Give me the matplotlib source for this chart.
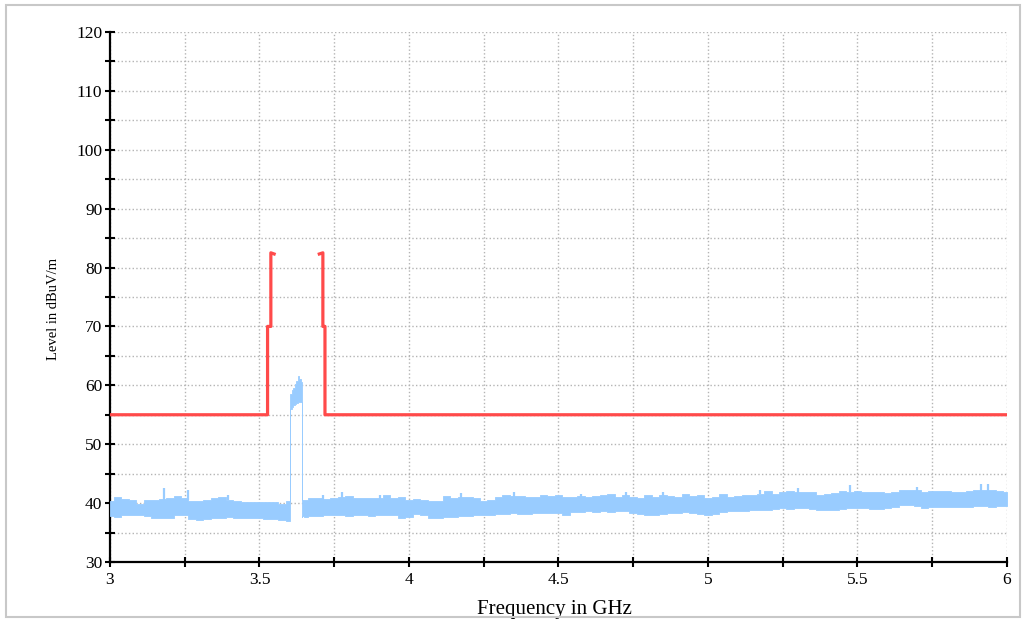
import matplotlib
matplotlib.use("Agg")
import matplotlib.pyplot as plt
from matplotlib.patches import Rectangle
from matplotlib.ticker import MultipleLocator

plt.rcParams['font.family'] = ['Liberation Serif', 'DejaVu Serif']

nan = float('nan')

# limit line (dBuV/m), two stepped pieces with a gap at the top
limit_f = [3.0, 3.527, 3.527, 3.538, 3.538, 3.549, nan,
           3.700, 3.712, 3.712, 3.719, 3.719, 6.0]
limit_l = [55, 55, 70, 70, 82.5, 82.3, nan,
           82.3, 82.5, 70, 70, 55, 55]

# measured trace, min/max envelope per frequency bin (GHz)
freq = [3.000, 3.025, 3.050, 3.075, 3.100, 3.125, 3.150, 3.175, 3.200, 3.225,
        3.250, 3.275, 3.300, 3.325, 3.350, 3.375, 3.400, 3.425, 3.450, 3.475,
        3.500, 3.525, 3.550, 3.575, 3.600,
        3.602, 3.605, 3.610, 3.615, 3.620, 3.625, 3.630, 3.635, 3.640, 3.642,
        3.645, 3.650, 3.675, 3.700, 3.725, 3.750, 3.775, 3.800, 3.825, 3.850,
        3.875, 3.900, 3.925, 3.950, 3.975, 4.000,
        4.025, 4.050, 4.075, 4.100, 4.125, 4.150, 4.175, 4.200, 4.225, 4.250,
        4.275, 4.300, 4.325, 4.350, 4.375, 4.400, 4.425, 4.450, 4.475, 4.500,
        4.525, 4.550, 4.575, 4.600, 4.625, 4.650, 4.675, 4.700, 4.725, 4.750,
        4.775, 4.800, 4.825, 4.850, 4.875, 4.900, 4.925, 4.950, 4.975, 5.000,
        5.025, 5.050, 5.075, 5.100, 5.125, 5.150, 5.175, 5.200, 5.225, 5.250,
        5.275, 5.300, 5.325, 5.350, 5.375, 5.400, 5.425, 5.450, 5.475, 5.500,
        5.525, 5.550, 5.575, 5.600, 5.625, 5.650, 5.675, 5.700, 5.725, 5.750,
        5.775, 5.800, 5.825, 5.850, 5.875, 5.900, 5.925, 5.950, 5.975, 6.000]
level_lo = [37.8, 37.6, 37.9, 38.0, 37.9, 37.8, 37.4, 37.4, 37.5, 38.0,
            38.0, 37.3, 37.2, 37.3, 37.5, 37.5, 37.6, 37.5, 37.4, 37.5,
            37.4, 37.3, 37.3, 37.2, 37.0,
            37.8, 56.0, 56.3, 56.6, 56.8, 57.0, 57.1, 57.2, 57.2, 37.6,
            37.8, 37.7, 37.8, 37.8, 37.9, 38.0, 37.9, 37.8, 37.9, 37.9,
            37.8, 37.9, 38.0, 37.9, 37.5, 37.7,
            38.1, 38.0, 37.4, 37.5, 37.6, 37.7, 37.8, 37.8, 38.0, 38.0,
            38.0, 38.1, 38.2, 38.3, 38.2, 38.2, 38.3, 38.3, 38.4, 38.4,
            38.0, 38.5, 38.5, 38.6, 38.5, 38.6, 38.5, 38.6, 38.6, 38.4,
            38.2, 38.0, 37.9, 38.1, 38.3, 38.4, 38.5, 38.4, 38.1, 38.0,
            38.1, 38.5, 38.6, 38.6, 38.7, 38.8, 38.8, 38.9, 39.0, 39.1,
            39.0, 39.1, 39.1, 39.0, 38.9, 38.9, 38.9, 39.0, 39.2, 39.2,
            39.2, 39.0, 39.0, 39.2, 39.3, 39.6, 39.6, 39.5, 39.1, 39.3,
            39.4, 39.4, 39.3, 39.4, 39.4, 39.5, 39.5, 39.4, 39.5, 39.5]
level_hi = [40.3, 41.0, 40.7, 40.6, 39.9, 40.5, 40.6, 40.7, 40.8, 41.2,
            40.9, 40.4, 40.3, 40.6, 40.8, 41.0, 40.5, 40.4, 40.2, 40.2,
            40.1, 40.1, 40.2, 39.9, 40.3,
            58.3, 58.5, 59.2, 59.6, 60.3, 60.8, 61.6, 61.0, 60.6, 60.0,
            40.5, 40.6, 40.8, 40.9, 40.7, 40.9, 41.0, 41.2, 40.8, 40.9,
            40.8, 40.9, 41.3, 40.8, 41.0, 40.6,
            40.7, 40.6, 40.3, 40.4, 41.2, 40.8, 41.0, 41.1, 40.9, 40.4,
            40.5, 41.0, 41.3, 41.2, 41.2, 41.1, 41.0, 41.3, 41.2, 41.4,
            41.0, 41.1, 41.2, 41.0, 41.2, 41.3, 41.5, 41.0, 41.3, 41.0,
            40.9, 41.3, 41.0, 41.3, 41.2, 41.1, 41.5, 41.2, 41.3, 40.8,
            41.0, 41.6, 41.1, 41.2, 41.4, 41.3, 41.6, 42.0, 41.6, 41.9,
            42.0, 41.8, 41.9, 41.8, 41.4, 41.5, 41.7, 42.0, 41.9, 42.0,
            41.8, 41.9, 41.8, 41.7, 41.9, 42.2, 42.3, 42.2, 41.8, 42.0,
            42.0, 42.0, 41.9, 41.8, 42.1, 42.2, 42.3, 42.3, 42.1, 41.9]

# narrow peaks sticking out of the noise band
spike_f = [3.180, 3.262, 3.395, 3.713, 3.775, 3.902, 4.175, 4.350, 4.575,
           4.725, 4.850, 5.175, 5.300, 5.475, 5.700, 5.912, 5.936]
spike_top = [42.6, 42.3, 41.3, 41.4, 41.9, 41.3, 41.7, 41.9, 41.5,
             41.8, 41.9, 42.3, 42.5, 43.0, 42.8, 43.2, 43.2]
spike_base = [40.5, 40.5, 40.5, 40.5, 40.5, 40.5, 40.5, 40.8, 41.0,
              41.0, 41.0, 41.5, 41.5, 41.8, 41.8, 42.0, 42.0]

fig = plt.figure(figsize=(10.27, 6.22), dpi=100)
fig.set_facecolor('white')
fig.patches.append(Rectangle((0.006, 0.008), 0.987, 0.984, transform=fig.transFigure,
                             fill=False, edgecolor='#c8c8c8', linewidth=1.5))

ax = fig.add_axes([0.1071, 0.0965, 0.8734, 0.8521])
ax.fill_between(freq, level_lo, level_hi, step='mid', color='#99ccff', linewidth=0.6,
                edgecolor='#99ccff', zorder=3)
ax.vlines(spike_f, spike_base, spike_top, color='#99ccff', linewidth=1.6, zorder=3)
ax.plot(limit_f, limit_l, color='#ff4a4a', linewidth=2.3, zorder=4)

ax.set_xlim(3, 6)
ax.set_ylim(30, 120)
ax.xaxis.set_major_locator(MultipleLocator(0.5))
ax.xaxis.set_minor_locator(MultipleLocator(0.25))
ax.yaxis.set_major_locator(MultipleLocator(10))
ax.yaxis.set_minor_locator(MultipleLocator(5))
ax.set_xticks([3, 3.5, 4, 4.5, 5, 5.5, 6])
ax.set_xticklabels(['3', '3.5', '4', '4.5', '5', '5.5', '6'])
ax.grid(True, which='both', color='#b4b4b4', linestyle=':', linewidth=1.0, zorder=0)
ax.set_axisbelow(True)

for s in ['top', 'right']:
    ax.spines[s].set_visible(False)
for s in ['left', 'bottom']:
    ax.spines[s].set_linewidth(1.6)
ax.tick_params(which='both', direction='inout', length=7, width=1.5, labelsize=12.5)
ax.tick_params(axis='x', pad=4)
ax.tick_params(axis='y', pad=2)

ax.set_xlabel('Frequency in GHz', fontsize=15)
ax.set_ylabel('Level in dBuV/m', fontsize=10.5)
ax.xaxis.set_label_coords(0.496, -0.071)
ax.yaxis.set_label_coords(-0.056, 0.477)

plt.savefig('out.png', dpi=100, facecolor='white')
